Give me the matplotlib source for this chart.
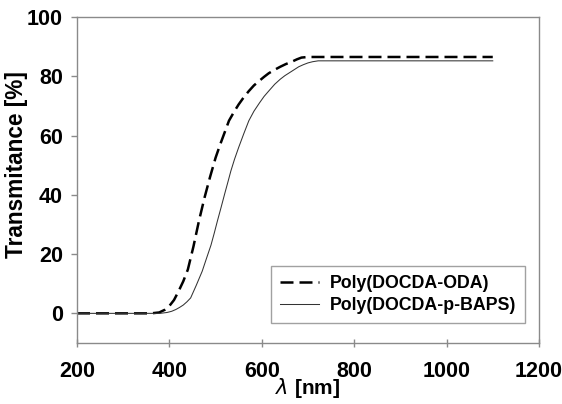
import matplotlib.pyplot as plt

plt.rcParams['font.family'] = ['Liberation Sans', 'DejaVu Sans']

# transmittance spectra (wavelength in nm, transmittance in %)
wl_oda = [200, 300, 360, 378, 390, 400, 410, 420, 430, 440, 452, 464, 476,
          488, 500, 510, 520, 529, 540, 550, 561, 572, 583, 595, 605, 615,
          628, 640, 652, 665, 676, 686, 700, 800, 900, 1000, 1100]
t_oda = [0, 0, 0, 0.3, 1.2, 2.5, 4.5, 7.5, 10.8, 14.8, 22.5, 31.2, 39,
         46, 52.5, 57, 61.2, 65, 68, 70.5, 72.9, 75, 76.9, 78.5, 79.8, 81,
         82.2, 83.2, 84.1, 84.9, 85.7, 86.3, 86.5, 86.5, 86.5, 86.5, 86.5]

wl_baps = [200, 300, 380, 395, 405, 414, 422, 430, 438, 446, 458, 471, 480,
           490, 497, 504, 512, 520, 527, 533, 541, 550, 561, 572, 583, 595,
           605, 615, 628, 640, 650, 658, 670, 680, 690, 700, 710, 722, 800,
           900, 1000, 1100]
t_baps = [0, 0, 0, 0.3, 0.7, 1.3, 2, 2.8, 3.9, 5.2, 9.4, 14.2, 18.4,
          23, 27, 31.2, 35.8, 40.5, 44.5, 48, 52, 56, 60.6, 65, 68.2, 71,
          73.2, 75, 77.3, 79, 80.2, 81, 82.2, 83.2, 83.9, 84.5, 84.9, 85.2, 85.2,
          85.2, 85.2, 85.2]

fig = plt.figure(figsize=(5.62, 4.04), dpi=100, facecolor='white')
ax = fig.add_axes([0.137, 0.151, 0.822, 0.807])

ax.plot(wl_oda, t_oda, color='black', lw=1.8, dashes=(5.2, 2.4),
        label='Poly(DOCDA-ODA)')
ax.plot(wl_baps, t_baps, color='#333333', lw=0.75,
        label='Poly(DOCDA-p-BAPS)')

ax.set_xlim(200, 1200)
ax.set_ylim(-10, 100)
ax.set_xticks([200, 400, 600, 800, 1000, 1200])
ax.set_yticks([0, 20, 40, 60, 80, 100])

frame = '#8a8a8a'
for s in ax.spines.values():
    s.set_color(frame)
    s.set_linewidth(1.0)
ax.tick_params(axis='y', direction='out', length=4, color=frame, width=1,
               labelsize=15.5, pad=6)
ax.tick_params(axis='x', direction='inout', length=6, color=frame, width=1,
               labelsize=15.5, pad=10)
for lab in ax.get_xticklabels() + ax.get_yticklabels():
    lab.set_fontweight('bold')

ax.set_ylabel('Transmitance [%]', fontsize=16.3, fontweight='bold')
ax.yaxis.set_label_coords(-0.106, 0.546)
ax.set_xlabel(r'$\lambda$ [nm]', fontsize=15, fontweight='bold', labelpad=-4)

leg = ax.legend(loc='lower right', bbox_to_anchor=(0.97, 0.061),
                prop={'weight': 'bold', 'size': 12.8}, frameon=True,
                fancybox=False, handlelength=2.2, borderpad=0.5,
                labelspacing=0.3, handletextpad=0.6, borderaxespad=0)
leg.get_frame().set_edgecolor(frame)
leg.get_frame().set_linewidth(1.0)

fig.savefig('out.png', dpi=100)
